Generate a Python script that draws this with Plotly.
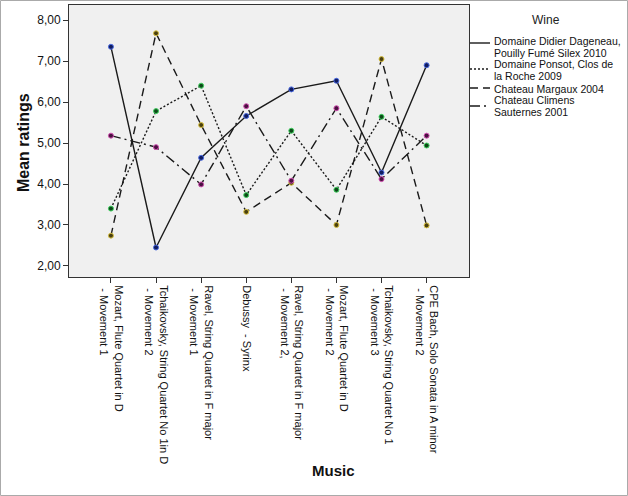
import plotly.graph_objects as go

# pieces of music (x categories)
music = [
    "Mozart, Flute Quartet in D<br> - Movement 1",
    "Tchaikovsky, String Quartet No 1in D<br> - Movement 2",
    "Ravel, String Quartet in F major<br> - Movement 1",
    "Debussy  - Syrinx",
    "Ravel, String Quartet in F major<br> - Movement 2,",
    "Mozart, Flute Quartet in D<br> - Movement 2",
    "Tchaikovsky, String Quartet No 1<br> - Movement 3",
    "CPE Bach, Solo Sonata in A minor<br> - Movement 2",
]

# legend labels, one list of text lines per wine
wines = [
    ["Domaine Didier Dageneau,", "Pouilly Fumé Silex 2010"],
    ["Domaine Ponsot, Clos de", "la Roche 2009"],
    ["Chateau Margaux 2004"],
    ["Chateau Climens", "Sauternes 2001"],
]

# mean ratings per wine
dageneau = [7.35, 2.45, 4.64, 5.66, 6.31, 6.52, 4.28, 6.90]
ponsot = [3.40, 5.78, 6.40, 3.73, 5.30, 3.86, 5.64, 4.94]
margaux = [2.74, 7.68, 5.44, 3.32, 4.03, 3.00, 7.05, 2.99]
climens = [5.18, 4.90, 3.99, 5.90, 4.08, 5.85, 4.12, 5.18]

series = [dageneau, ponsot, margaux, climens]
dashes = ["solid", "2px,2px", "8px,5px", "10px,4px,2px,4px"]
marker_fill = ["#101c60", "#0c4a18", "#4a4010", "#4a1040"]
marker_ring = ["#4a6ae0", "#40d060", "#d8c040", "#d050b0"]

font = "Arial, Liberation Sans, sans-serif"

# plot area in pixels: x 69..469, y 5..277
L, R, T, B = 69, 469, 5, 277


def px_x(p):
    return (p - L) / (R - L)


def px_y(p):
    return (B - p) / (B - T)


fig = go.Figure()
for name, vals, dash, fc, rc in zip(wines, series, dashes, marker_fill, marker_ring):
    fig.add_trace(go.Scatter(
        x=list(range(len(music))), y=vals, name=" ".join(name),
        mode="lines+markers", showlegend=False,
        line=dict(color="#1a1a1a", width=1.4, dash=dash),
        marker=dict(size=5, color=fc, line=dict(color=rc, width=1)),
    ))

# legend drawn by hand (SPSS style: short line sample, wrapped names)
annotations = [dict(
    text="Wine", xref="paper", yref="paper", x=px_x(546), y=px_y(20),
    showarrow=False, font=dict(size=12, color="#222"),
    xanchor="center", yanchor="middle",
)]
shapes = []
sample_y = [43, 69, 88, 106]
text_y = [[41, 53], [64, 76], [89], [100, 112]]
for lines, dash, sy, ty in zip(wines, dashes, sample_y, text_y):
    shapes.append(dict(
        type="line", xref="paper", yref="paper",
        x0=px_x(470), x1=px_x(490), y0=px_y(sy), y1=px_y(sy),
        line=dict(color="#1a1a1a", width=1.4, dash=dash),
    ))
    for txt, yy in zip(lines, ty):
        annotations.append(dict(
            text=txt, xref="paper", yref="paper", x=px_x(492), y=px_y(yy),
            showarrow=False, font=dict(size=10.5, color="#111"),
            xanchor="left", yanchor="middle",
        ))

# axis titles
annotations.append(dict(
    text="<b>Music</b>", xref="paper", yref="paper", x=px_x(333), y=px_y(470),
    showarrow=False, font=dict(size=15, color="#111"),
    xanchor="center", yanchor="middle",
))
annotations.append(dict(
    text="<b>Mean ratings</b>", xref="paper", yref="paper", x=px_x(23), y=px_y(143),
    showarrow=False, font=dict(size=16, color="#111"), textangle=-90,
    xanchor="center", yanchor="middle",
))

# grey frame around the whole chart
shapes.append(dict(
    type="rect", xref="paper", yref="paper",
    x0=px_x(0.5), x1=px_x(627.5), y0=px_y(495.5), y1=px_y(0.5),
    line=dict(color="#aaa", width=1), layer="below",
))

fig.update_layout(
    width=628, height=496,
    margin=dict(l=L, r=628 - R, t=T, b=496 - B),
    paper_bgcolor="white",
    plot_bgcolor="#f0f0f0",
    separators=",.",
    font=dict(family=font, size=11, color="#111"),
    showlegend=False,
    xaxis=dict(
        range=[-0.93, 7.94],
        tickvals=list(range(len(music))), ticktext=music,
        tickangle=90, ticks="outside", ticklen=5, tickcolor="#333",
        showline=True, linecolor="#333", linewidth=1, mirror=True,
        showgrid=False, zeroline=False, automargin=False,
        tickfont=dict(size=11),
    ),
    yaxis=dict(
        range=[1.73, 8.37], tickvals=[2, 3, 4, 5, 6, 7, 8],
        tickformat=".2f", ticks="outside", ticklen=5, tickcolor="#333",
        showline=True, linecolor="#333", linewidth=1, mirror=True,
        showgrid=False, zeroline=False, automargin=False,
        tickfont=dict(size=12),
    ),
    annotations=annotations,
    shapes=shapes,
)

# page margin would push the 628x496 figure off by 8px
fig.write_html("out.html", config={"displayModeBar": False},
               post_script="document.body.style.margin='0';")
